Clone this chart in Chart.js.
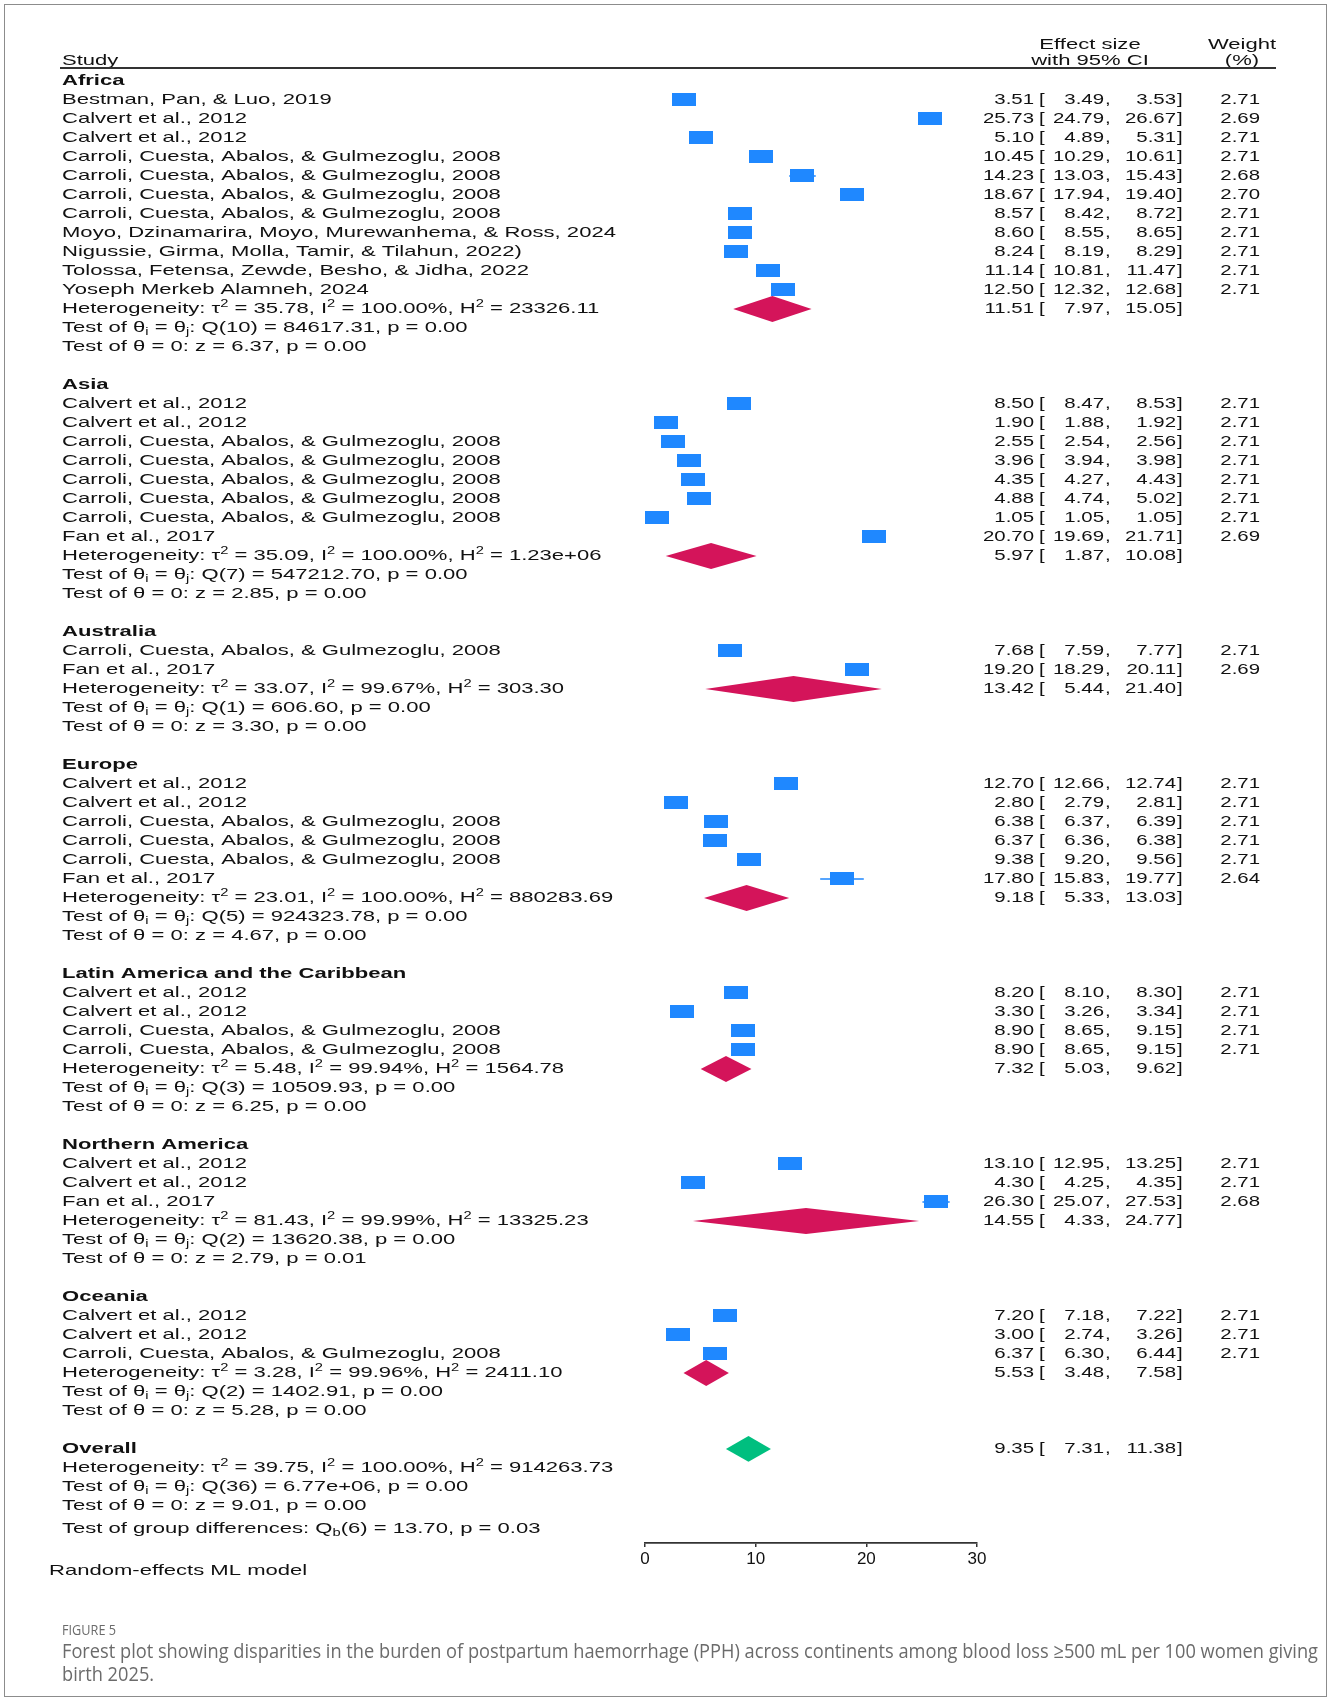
<!DOCTYPE html>
<html>
<head>
<meta charset="utf-8">
<title>Forest plot - PPH by continent</title>
<script src="https://cdn.jsdelivr.net/npm/chart.js@4.4.1/dist/chart.umd.min.js"></script>
<style>
  html, body { margin: 0; padding: 0; background: #fff; }
  #wrap { position: relative; width: 1331px; height: 1701px; overflow: hidden; }
  #chartBox { position: absolute; left: 0; top: 0; width: 1331px; height: 1701px; }
  #frame { position: absolute; left: 4px; top: 4px; width: 1321px; height: 1691px; border: 1px solid #8c8c8c; pointer-events: none; }
  .cap { position: absolute; left: 62px; white-space: nowrap; color: #6b6b6b; font-family: "Open Sans", sans-serif; line-height: 24px; transform-origin: left center; }
  #figLabel { top: 1617px; font-size: 15px; }
  #capLine1 { top: 1639px; font-size: 20px; }
  #capLine2 { top: 1662px; font-size: 20px; }
</style>
</head>
<body>
<div id="wrap">
  <div id="chartBox"><canvas id="forestChart"></canvas></div>
  <div id="frame"></div>
  <div class="cap" id="figLabel">FIGURE 5</div>
  <div class="cap" id="capLine1">Forest plot showing disparities in the burden of postpartum haemorrhage (PPH) across continents among blood loss ≥500 mL per 100 women giving</div>
  <div class="cap" id="capLine2">birth 2025.</div>
</div>
<script>
// Subgroups (continents) and how many studies each one has
const groupNames = ["Africa", "Asia", "Australia", "Europe", "Latin America and the Caribbean", "Northern America", "Oceania"];
const groupSizes = [11, 8, 2, 6, 4, 3, 3];

// Studies, in plotting order
const studyLabels = [
  "Bestman, Pan, & Luo, 2019",
  "Calvert et al., 2012",
  "Calvert et al., 2012",
  "Carroli, Cuesta, Abalos, & Gulmezoglu, 2008",
  "Carroli, Cuesta, Abalos, & Gulmezoglu, 2008",
  "Carroli, Cuesta, Abalos, & Gulmezoglu, 2008",
  "Carroli, Cuesta, Abalos, & Gulmezoglu, 2008",
  "Moyo, Dzinamarira, Moyo, Murewanhema, & Ross, 2024",
  "Nigussie, Girma, Molla, Tamir, & Tilahun, 2022)",
  "Tolossa, Fetensa, Zewde, Besho, & Jidha, 2022",
  "Yoseph Merkeb Alamneh, 2024",
  "Calvert et al., 2012",
  "Calvert et al., 2012",
  "Carroli, Cuesta, Abalos, & Gulmezoglu, 2008",
  "Carroli, Cuesta, Abalos, & Gulmezoglu, 2008",
  "Carroli, Cuesta, Abalos, & Gulmezoglu, 2008",
  "Carroli, Cuesta, Abalos, & Gulmezoglu, 2008",
  "Carroli, Cuesta, Abalos, & Gulmezoglu, 2008",
  "Fan et al., 2017",
  "Carroli, Cuesta, Abalos, & Gulmezoglu, 2008",
  "Fan et al., 2017",
  "Calvert et al., 2012",
  "Calvert et al., 2012",
  "Carroli, Cuesta, Abalos, & Gulmezoglu, 2008",
  "Carroli, Cuesta, Abalos, & Gulmezoglu, 2008",
  "Carroli, Cuesta, Abalos, & Gulmezoglu, 2008",
  "Fan et al., 2017",
  "Calvert et al., 2012",
  "Calvert et al., 2012",
  "Carroli, Cuesta, Abalos, & Gulmezoglu, 2008",
  "Carroli, Cuesta, Abalos, & Gulmezoglu, 2008",
  "Calvert et al., 2012",
  "Calvert et al., 2012",
  "Fan et al., 2017",
  "Calvert et al., 2012",
  "Calvert et al., 2012",
  "Carroli, Cuesta, Abalos, & Gulmezoglu, 2008"
];
const studyEffects = [3.51, 25.73, 5.10, 10.45, 14.23, 18.67, 8.57, 8.60, 8.24, 11.14, 12.50,
  8.50, 1.90, 2.55, 3.96, 4.35, 4.88, 1.05, 20.70,
  7.68, 19.20,
  12.70, 2.80, 6.38, 6.37, 9.38, 17.80,
  8.20, 3.30, 8.90, 8.90,
  13.10, 4.30, 26.30,
  7.20, 3.00, 6.37];
const studyLow = [3.49, 24.79, 4.89, 10.29, 13.03, 17.94, 8.42, 8.55, 8.19, 10.81, 12.32,
  8.47, 1.88, 2.54, 3.94, 4.27, 4.74, 1.05, 19.69,
  7.59, 18.29,
  12.66, 2.79, 6.37, 6.36, 9.20, 15.83,
  8.10, 3.26, 8.65, 8.65,
  12.95, 4.25, 25.07,
  7.18, 2.74, 6.30];
const studyHigh = [3.53, 26.67, 5.31, 10.61, 15.43, 19.40, 8.72, 8.65, 8.29, 11.47, 12.68,
  8.53, 1.92, 2.56, 3.98, 4.43, 5.02, 1.05, 21.71,
  7.77, 20.11,
  12.74, 2.81, 6.39, 6.38, 9.56, 19.77,
  8.30, 3.34, 9.15, 9.15,
  13.25, 4.35, 27.53,
  7.22, 3.26, 6.44];
const studyWeights = [2.71, 2.69, 2.71, 2.71, 2.68, 2.70, 2.71, 2.71, 2.71, 2.71, 2.71,
  2.71, 2.71, 2.71, 2.71, 2.71, 2.71, 2.71, 2.69,
  2.71, 2.69,
  2.71, 2.71, 2.71, 2.71, 2.71, 2.64,
  2.71, 2.71, 2.71, 2.71,
  2.71, 2.71, 2.68,
  2.71, 2.71, 2.71];

// Pooled subgroup estimates and their statistics
const groupEffects = [11.51, 5.97, 13.42, 9.18, 7.32, 14.55, 5.53];
const groupLow = [7.97, 1.87, 5.44, 5.33, 5.03, 4.33, 3.48];
const groupHigh = [15.05, 10.08, 21.40, 13.03, 9.62, 24.77, 7.58];
const groupTau2 = ["35.78", "35.09", "33.07", "23.01", "5.48", "81.43", "3.28"];
const groupI2 = ["100.00", "100.00", "99.67", "100.00", "99.94", "99.99", "99.96"];
const groupH2 = ["23326.11", "1.23e+06", "303.30", "880283.69", "1564.78", "13325.23", "2411.10"];
const groupQ = ["84617.31", "547212.70", "606.60", "924323.78", "10509.93", "13620.38", "1402.91"];
const groupQp = ["0.00", "0.00", "0.00", "0.00", "0.00", "0.00", "0.00"];
const groupZ = ["6.37", "2.85", "3.30", "4.67", "6.25", "2.79", "5.28"];
const groupZp = ["0.00", "0.00", "0.00", "0.00", "0.00", "0.01", "0.00"];

// Overall estimate
const overallEffect = 9.35;
const overallLow = 7.31;
const overallHigh = 11.38;
const overallStats = ["39.75", "100.00", "914263.73", "36", "6.77e+06", "0.00", "9.01", "0.00"]; // tau2, I2, H2, Q df, Q, p, z, p
const groupDiff = ["6", "13.70", "0.03"]; // df, Qb, p

const xTicks = [0, 10, 20, 30];

// Build the row layout (one row = one line of the table)
const rows = [];
let r = 0;
let s = 0;
groupNames.forEach((name, g) => {
  rows.push({ kind: "head", r: r++, g });
  for (let k = 0; k < groupSizes[g]; k++) {
    rows.push({ kind: "study", r: r++, i: s++ });
  }
  rows.push({ kind: "het", r: r++, g });
  rows.push({ kind: "q", r: r++, g });
  rows.push({ kind: "z", r: r++, g });
  r++; // blank line between groups
});
const overallRow = r;

const HALF = 0.68; // diamond half height, in rows

// Datasets
const markerData = [];
const ciData = [];
rows.filter(row => row.kind === "study").forEach(row => {
  markerData.push({ x: studyEffects[row.i], y: row.r });
  ciData.push({ x: studyLow[row.i], y: row.r }, { x: studyHigh[row.i], y: row.r }, { x: null, y: null });
});

function diamond(est, lo, hi, row) {
  return [
    { x: lo, y: row }, { x: est, y: row - HALF },
    { x: hi, y: row }, { x: est, y: row + HALF }, { x: lo, y: row }
  ];
}

// marker image: blue rectangle
const markerImg = document.createElement("canvas");
markerImg.width = 24;
markerImg.height = 13;
const mctx = markerImg.getContext("2d");
mctx.fillStyle = "#1f88ff";
mctx.fillRect(0, 0, 24, 13);

const datasets = [];
rows.filter(row => row.kind === "het").forEach(row => {
  const g = row.g;
  datasets.push({
    type: "line",
    data: diamond(groupEffects[g], groupLow[g], groupHigh[g], row.r),
    borderWidth: 0,
    borderColor: "#d4145a",
    backgroundColor: "#d4145a",
    fill: "shape",
    pointRadius: 0,
    tension: 0,
    order: 3
  });
});
datasets.push({
  type: "line",
  data: diamond(overallEffect, overallLow, overallHigh, overallRow),
  borderWidth: 0,
  borderColor: "#00bf7f",
  backgroundColor: "#00bf7f",
  fill: "shape",
  pointRadius: 0,
  tension: 0,
  order: 3
});
datasets.push({
  type: "line",
  data: ciData,
  borderColor: "#1f88ff",
  borderWidth: 1.5,
  pointRadius: 0,
  spanGaps: false,
  fill: false,
  order: 2
});
datasets.push({
  type: "scatter",
  data: markerData,
  pointStyle: markerImg,
  pointRadius: 8,
  order: 1
});

// Text drawing (Stata style text is wide, so stretch horizontally)
const SX = 1.47;     // labels
const SX_NUM = 1.36; // number columns
const FONT = '"Liberation Sans", Arial, sans-serif';

function parseRich(str) {
  const segs = [];
  let buf = "";
  for (let k = 0; k < str.length; k++) {
    const c = str[k];
    if ((c === "^" || c === "_") && k + 1 < str.length) {
      if (buf) segs.push({ t: buf, small: 0 });
      buf = "";
      segs.push({ t: str[k + 1], small: c === "^" ? -1 : 1 });
      k++;
    } else {
      buf += c;
    }
  }
  if (buf) segs.push({ t: buf, small: 0 });
  return segs;
}

function drawRich(ctx, str, x, y, align, bold, sx) {
  const segs = parseRich(str);
  const big = (bold ? "bold " : "") + "15px " + FONT;
  const small = "10px " + FONT;
  let total = 0;
  segs.forEach(seg => {
    ctx.font = seg.small ? small : big;
    seg.w = ctx.measureText(seg.t).width;
    total += seg.w;
  });
  ctx.save();
  ctx.translate(x, y);
  ctx.scale(sx || SX, 1);
  ctx.fillStyle = "#111";
  ctx.textBaseline = "middle";
  ctx.textAlign = "left";
  let cx = align === "right" ? -total : align === "center" ? -total / 2 : 0;
  segs.forEach(seg => {
    ctx.font = seg.small ? small : big;
    const dy = seg.small === -1 ? -5 : seg.small === 1 ? 4 : 0;
    ctx.fillText(seg.t, cx, dy);
    cx += seg.w;
  });
  ctx.restore();
}

function drawNum(ctx, str, x, y, align) {
  drawRich(ctx, str, x, y, align, false, SX_NUM);
}

function drawEffect(ctx, est, lo, hi, y) {
  drawNum(ctx, est.toFixed(2), 1034, y, "right");
  drawNum(ctx, "[", 1039, y, "left");
  drawNum(ctx, lo.toFixed(2), 1104, y, "right");
  drawNum(ctx, ",", 1105, y, "left");
  drawNum(ctx, hi.toFixed(2), 1176, y, "right");
  drawNum(ctx, "]", 1177, y, "left");
}

const tablePlugin = {
  id: "forestTable",
  afterDraw(chart) {
    const ctx = chart.ctx;
    const yS = chart.scales.y;
    const LX = 62;

    // header
    drawRich(ctx, "Effect size", 1090, 45, "center");
    drawRich(ctx, "with 95% CI", 1090, 61, "center");
    drawRich(ctx, "Weight", 1242, 45, "center");
    drawRich(ctx, "(%)", 1242, 61, "center");
    drawRich(ctx, "Study", LX, 61, "left");
    ctx.save();
    ctx.strokeStyle = "#333";
    ctx.lineWidth = 2;
    ctx.beginPath();
    ctx.moveTo(60, 68);
    ctx.lineTo(1276, 68);
    ctx.stroke();
    ctx.restore();

    rows.forEach(row => {
      const y = yS.getPixelForValue(row.r);
      const g = row.g;
      if (row.kind === "head") {
        drawRich(ctx, groupNames[g], LX, y, "left", true);
      } else if (row.kind === "study") {
        drawRich(ctx, studyLabels[row.i], LX, y, "left");
        drawEffect(ctx, studyEffects[row.i], studyLow[row.i], studyHigh[row.i], y);
        drawNum(ctx, studyWeights[row.i].toFixed(2), 1260, y, "right");
      } else if (row.kind === "het") {
        drawRich(ctx, "Heterogeneity: τ^2 = " + groupTau2[g] + ", I^2 = " + groupI2[g] + "%, H^2 = " + groupH2[g], LX, y, "left");
        drawEffect(ctx, groupEffects[g], groupLow[g], groupHigh[g], y);
      } else if (row.kind === "q") {
        drawRich(ctx, "Test of θ_i = θ_j: Q(" + (groupSizes[g] - 1) + ") = " + groupQ[g] + ", p = " + groupQp[g], LX, y, "left");
      } else if (row.kind === "z") {
        drawRich(ctx, "Test of θ = 0: z = " + groupZ[g] + ", p = " + groupZp[g], LX, y, "left");
      }
    });

    // overall block
    const yo = yS.getPixelForValue(overallRow);
    drawRich(ctx, "Overall", LX, yo, "left", true);
    drawEffect(ctx, overallEffect, overallLow, overallHigh, yo);
    drawRich(ctx, "Heterogeneity: τ^2 = " + overallStats[0] + ", I^2 = " + overallStats[1] + "%, H^2 = " + overallStats[2], LX, yS.getPixelForValue(overallRow + 1), "left");
    drawRich(ctx, "Test of θ_i = θ_j: Q(" + overallStats[3] + ") = " + overallStats[4] + ", p = " + overallStats[5], LX, yS.getPixelForValue(overallRow + 2), "left");
    drawRich(ctx, "Test of θ = 0: z = " + overallStats[6] + ", p = " + overallStats[7], LX, yS.getPixelForValue(overallRow + 3), "left");
    drawRich(ctx, "Test of group differences: Q_b(" + groupDiff[0] + ") = " + groupDiff[1] + ", p = " + groupDiff[2], LX, yS.getPixelForValue(overallRow + 4.2), "left");
    drawRich(ctx, "Random-effects ML model", 49, yS.getPixelForValue(overallRow + 6.4), "left");
  }
};

const ctx = document.getElementById("forestChart").getContext("2d");
new Chart(ctx, {
  type: "scatter",
  data: { datasets },
  options: {
    responsive: true,
    maintainAspectRatio: false,
    animation: false,
    events: [],
    layout: { padding: { left: 645, right: 354, top: 62, bottom: 118 } },
    plugins: {
      legend: { display: false },
      tooltip: { enabled: false }
    },
    scales: {
      x: {
        type: "linear",
        min: 0,
        max: 30,
        afterBuildTicks: scale => { scale.ticks = xTicks.map(v => ({ value: v })); },
        afterFit: scale => { scale.height = 40; },
        grid: { drawOnChartArea: false, drawTicks: true, tickLength: 4, color: "#333", lineWidth: 1.5 },
        border: { display: true, color: "#333", width: 1.8 },
        ticks: { color: "#111", font: { family: "Liberation Sans", size: 17 }, padding: 2, maxRotation: 0 }
      },
      y: {
        type: "linear",
        reverse: true,
        min: -1,
        max: 76.95,
        display: false
      }
    }
  },
  plugins: [tablePlugin]
});

// fit the caption lines to the width they take in the figure
const cap1 = document.getElementById("capLine1");
const k = 1256 / cap1.getBoundingClientRect().width;
cap1.style.transform = "scaleX(" + k + ")";
document.getElementById("capLine2").style.transform = "scaleX(" + k + ")";
const fig = document.getElementById("figLabel");
fig.style.transform = "scaleX(" + (54 / fig.getBoundingClientRect().width) + ")";
</script>
</body>
</html>
